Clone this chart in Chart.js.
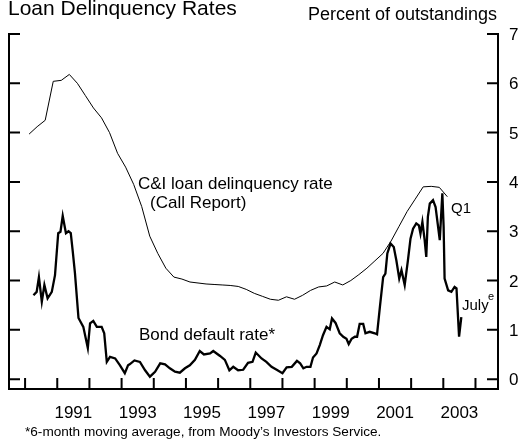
<!DOCTYPE html>
<html>
<head>
<meta charset="utf-8">
<script src="https://cdn.jsdelivr.net/npm/chart.js@4.4.1/dist/chart.umd.min.js"></script>
<style>
  html, body { margin: 0; padding: 0; background: #fff; }
  #chart { display: block; }
</style>
</head>
<body>
<canvas id="chart" width="523" height="448"></canvas>
<script>
//############ Data ############
// C&I loan delinquency rate (Call Report), quarterly, 1990Q1 - 2003Q1
const ciQuarters = [
  1990.125, 1990.375, 1990.625, 1990.875, 1991.125, 1991.375, 1991.625, 1991.875,
  1992.125, 1992.375, 1992.625, 1992.875, 1993.125, 1993.375, 1993.625, 1993.875,
  1994.125, 1994.375, 1994.625, 1994.875, 1995.125, 1995.375, 1995.625, 1995.875,
  1996.125, 1996.375, 1996.625, 1996.875, 1997.125, 1997.375, 1997.625, 1997.875,
  1998.125, 1998.375, 1998.625, 1998.875, 1999.125, 1999.375, 1999.625, 1999.875,
  2000.125, 2000.375, 2000.625, 2000.875, 2001.125, 2001.375, 2001.625, 2001.875,
  2002.125, 2002.375, 2002.625, 2002.875, 2003.125
];
const ciRates = [
  4.97, 5.12, 5.25, 6.04, 6.06, 6.18, 6.00, 5.75,
  5.50, 5.30, 5.00, 4.58, 4.30, 3.95, 3.50, 2.90,
  2.55, 2.25, 2.07, 2.03, 1.97, 1.95, 1.93, 1.92,
  1.91, 1.90, 1.88, 1.82, 1.74, 1.68, 1.62, 1.60,
  1.67, 1.62, 1.70, 1.80, 1.87, 1.89, 1.97, 1.91,
  2.00, 2.12, 2.25, 2.40, 2.55, 2.80, 3.10, 3.40,
  3.65, 3.90, 3.91, 3.89, 3.70
];

// Bond default rate, 6-month moving average (Moody's)
const bondDates = [
  1990.26, 1990.36, 1990.43, 1990.52, 1990.60, 1990.70, 1990.83, 1990.93,
  1991.03, 1991.10, 1991.17, 1991.27, 1991.35, 1991.42, 1991.48, 1991.55,
  1991.66, 1991.81, 1991.95, 1992.02, 1992.12, 1992.23, 1992.38, 1992.46,
  1992.54, 1992.64, 1992.80, 1992.95, 1993.10, 1993.20, 1993.25, 1993.40,
  1993.57, 1993.73, 1993.88, 1994.04, 1994.20, 1994.35, 1994.50, 1994.66,
  1994.81, 1994.97, 1995.12, 1995.28, 1995.43, 1995.56, 1995.75, 1995.85,
  1996.06, 1996.21, 1996.35, 1996.47, 1996.62, 1996.78, 1996.93, 1997.07,
  1997.17, 1997.35, 1997.50, 1997.66, 1997.82, 1998.00, 1998.13, 1998.29,
  1998.45, 1998.55, 1998.65, 1998.75, 1998.87, 1998.95, 1999.06, 1999.16,
  1999.26, 1999.37, 1999.47, 1999.54, 1999.65, 1999.78, 1999.89, 1999.99,
  2000.06, 2000.15, 2000.25, 2000.32, 2000.40, 2000.51, 2000.58, 2000.71,
  2000.87, 2000.94, 2001.03, 2001.13, 2001.20, 2001.26, 2001.36, 2001.46,
  2001.54, 2001.63, 2001.70, 2001.80, 2001.90, 2001.98, 2002.06, 2002.16,
  2002.24, 2002.29, 2002.35, 2002.42, 2002.47, 2002.52, 2002.58, 2002.68,
  2002.76, 2002.89, 2002.97, 2003.01, 2003.04, 2003.15, 2003.25, 2003.35,
  2003.41, 2003.49, 2003.56
];
const bondRates = [
  1.70, 1.77, 2.07, 1.57, 1.91, 1.64, 1.77, 2.11,
  2.96, 2.99, 3.31, 2.96, 3.00, 2.96, 2.60, 2.15,
  1.24, 1.06, 0.63, 1.13, 1.18, 1.06, 1.06, 0.93,
  0.35, 0.45, 0.42, 0.28, 0.12, 0.28, 0.30, 0.38,
  0.35, 0.18, 0.05, 0.15, 0.32, 0.30, 0.22, 0.15,
  0.13, 0.22, 0.28, 0.39, 0.57, 0.50, 0.52, 0.57,
  0.47, 0.39, 0.18, 0.25, 0.18, 0.19, 0.33, 0.35,
  0.54, 0.42, 0.35, 0.25, 0.19, 0.12, 0.24, 0.25,
  0.37, 0.32, 0.22, 0.25, 0.25, 0.44, 0.52, 0.69,
  0.89, 1.06, 1.01, 1.23, 1.14, 0.93, 0.86, 0.82,
  0.71, 0.82, 0.86, 0.86, 1.12, 1.12, 0.93, 0.96,
  0.93, 0.91, 1.47, 2.07, 2.14, 2.55, 2.75, 2.68,
  2.41, 2.04, 2.21, 1.91, 2.41, 2.85, 3.05, 3.16,
  3.12, 2.95, 3.19, 2.82, 2.48, 3.29, 3.56, 3.63,
  3.49, 2.82, 3.77, 3.09, 2.04, 1.80, 1.77, 1.87,
  1.84, 0.86, 1.26
];

// Axes
const yearTicks = [1990, 1991, 1992, 1993, 1994, 1995, 1996, 1997, 1998, 1999, 2000, 2001, 2002, 2003, 2004];
const yearLabels = ['1991', '1993', '1995', '1997', '1999', '2001', '2003'];
const rateTicks = [0, 1, 2, 3, 4, 5, 6, 7];

const FONT = '"Liberation Sans", Arial, Helvetica, sans-serif';

//############ Frame, inward ticks and all text ############
const framePlugin = {
  id: 'frame',
  afterDraw(chart) {
    const { ctx, chartArea: a, scales: { x, y } } = chart;
    ctx.save();
    ctx.strokeStyle = '#000';
    ctx.lineWidth = 2;
    ctx.lineCap = 'butt';
    ctx.lineJoin = 'miter';
    ctx.beginPath();
    ctx.moveTo(a.left + 11, a.top);
    ctx.lineTo(a.left, a.top);
    ctx.lineTo(a.left, a.bottom);
    ctx.lineTo(a.right, a.bottom);
    ctx.lineTo(a.right, a.top);
    ctx.lineTo(a.right - 11, a.top);
    rateTicks.forEach(v => {
      const py = y.getPixelForValue(v);
      ctx.moveTo(a.left, py); ctx.lineTo(a.left + 11, py);
      ctx.moveTo(a.right, py); ctx.lineTo(a.right - 11, py);
    });
    yearTicks.forEach(v => {
      const px = x.getPixelForValue(v);
      ctx.moveTo(px, a.bottom); ctx.lineTo(px, a.bottom - 11);
    });
    ctx.stroke();

    ctx.fillStyle = '#000';
    // right axis labels
    ctx.font = '17px ' + FONT;
    ctx.textAlign = 'left';
    ctx.textBaseline = 'alphabetic';
    rateTicks.forEach(v => {
      ctx.fillText(String(v), a.right + 11, y.getPixelForValue(v) + 6);
    });
    // year labels, centred in the year
    ctx.textAlign = 'center';
    yearLabels.forEach(lbl => {
      ctx.fillText(lbl, x.getPixelForValue(Number(lbl) + 0.5), 418);
    });

    // titles
    ctx.textAlign = 'left';
    ctx.font = '21px ' + FONT;
    ctx.fillText('Loan Delinquency Rates', 8, 15);
    ctx.textAlign = 'right';
    ctx.font = '18px ' + FONT;
    ctx.fillText('Percent of outstandings', 497, 20);
    ctx.textAlign = 'left';
    ctx.font = '13.6px ' + FONT;
    ctx.fillText('*6-month moving average, from Moody\u2019s Investors Service.', 25, 436);

    // series annotations
    ctx.font = '17px ' + FONT;
    ctx.fillText('C&I loan delinquency rate', 138, 189);
    ctx.fillText('(Call Report)', 150, 208);
    ctx.fillText('Bond default rate*', 139, 340);
    ctx.font = '15px ' + FONT;
    ctx.fillText('Q1', 451, 213);
    ctx.fillText('July', 462, 310);
    ctx.font = '11px ' + FONT;
    ctx.fillText('e', 488, 300);
    ctx.restore();
  }
};

//############ Chart ############
const ciPoints = ciQuarters.map((q, i) => ({ x: q, y: ciRates[i] }));
const bondPoints = bondDates.map((d, i) => ({ x: d, y: bondRates[i] }));

new Chart(document.getElementById('chart'), {
  type: 'line',
  data: {
    datasets: [
      {
        label: 'C&I loan delinquency rate',
        data: ciPoints,
        borderColor: '#000',
        borderWidth: 1,
        pointRadius: 0,
        tension: 0,
        fill: false,
      },
      {
        label: 'Bond default rate',
        data: bondPoints,
        borderColor: '#000',
        borderWidth: 2.3,
        pointRadius: 0,
        tension: 0,
        fill: false,
      },
    ],
  },
  options: {
    responsive: false,
    animation: false,
    events: [],
    layout: { padding: { left: 9, top: 34, right: 25, bottom: 59 } },
    plugins: {
      legend: { display: false },
      tooltip: { enabled: false },
    },
    scales: {
      x: { type: 'linear', min: 1989.5, max: 2004.7, display: false },
      y: { type: 'linear', min: -0.2, max: 7, display: false },
    },
  },
  plugins: [framePlugin],
});
</script>
</body>
</html>
